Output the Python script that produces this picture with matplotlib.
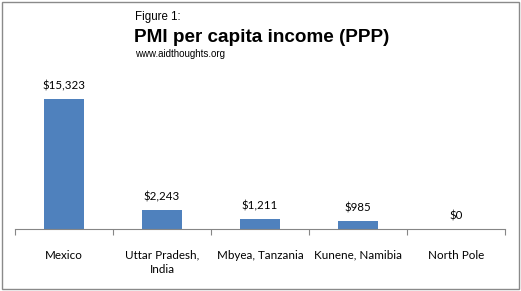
import matplotlib.pyplot as plt
from matplotlib.patches import Rectangle

regions = ["Mexico", "Uttar Pradesh,\nIndia", "Mbyea, Tanzania", "Kunene, Namibia", "North Pole"]
income = [15323, 2243, 1211, 985, 0]
value_labels = ["$15,323", "$2,243", "$1,211", "$985", "$0"]

W, H = 521, 291
fig = plt.figure(figsize=(W / 100, H / 100), dpi=100)
fig.patches.append(Rectangle((2 / W, 2 / H), (W - 4) / W, (H - 4) / H,
                             transform=fig.transFigure, fill=False,
                             edgecolor='#8a8a8a', linewidth=1))

ax = fig.add_axes([15 / W, 62 / H, 490 / W, 152.7 / H])
x = range(len(regions))
ax.bar(x, income, width=0.4, color='#4F81BD')
ax.set_xlim(-0.5, 4.5)
ax.set_ylim(0, 18000)

for i, (v, lab) in enumerate(zip(income, value_labels)):
    ax.annotate(lab, (i, v), xytext=(0, 9.3), textcoords='offset points',
                ha='center', va='center', fontsize=8.3, family='Lato')

for s in ['top', 'left', 'right']:
    ax.spines[s].set_visible(False)
ax.spines['bottom'].set_color('#868686')
ax.set_yticks([])
ax.set_xticks([i - 0.5 for i in range(len(regions) + 1)])
ax.set_xticklabels([])
ax.tick_params(axis='x', which='major', length=4, color='#868686')
ax.set_xticks(list(x), minor=True)
ax.set_xticklabels(regions, minor=True, fontsize=8.4, family='Lato', va='top',
                   linespacing=1.3)
ax.tick_params(axis='x', which='minor', length=0, pad=15)

fig.text(135 / W, 1 - 17 / H, "Figure 1:", fontsize=8.3, family='Liberation Sans',
         va='center')
fig.text(134 / W, 1 - 38 / H, "PMI per capita income (PPP)", fontsize=13.6,
         fontweight='bold', family='Liberation Sans', va='center')
fig.text(135 / W, 1 - 54 / H, "www.aidthoughts.org", fontsize=7,
         family='Liberation Sans', va='center')

fig.savefig("out.png", dpi=100)
